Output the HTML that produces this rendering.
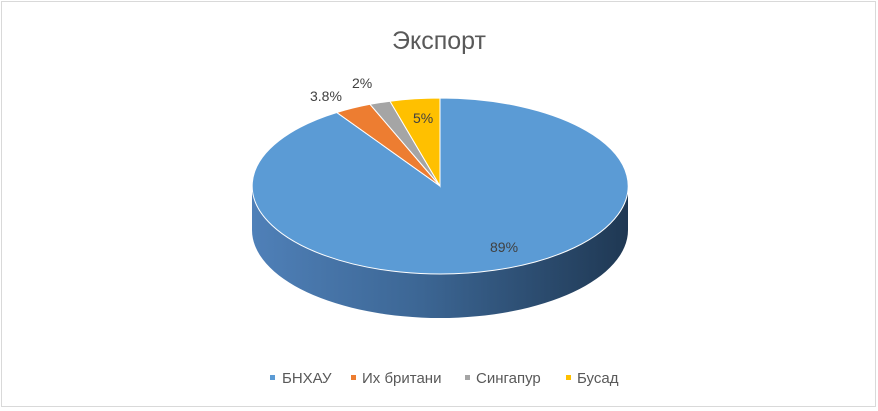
<!DOCTYPE html>
<html><head><meta charset="utf-8"><style>
html,body{margin:0;padding:0;background:#fff;}
svg{display:block;font-family:"Liberation Sans","DejaVu Sans",sans-serif;}
</style></head><body>
<svg width="878" height="411" viewBox="0 0 878 411">
<defs>
<linearGradient id="side" x1="0" x2="1" y1="0" y2="0">
<stop offset="0" stop-color="#4f80b8"/>
<stop offset="0.45" stop-color="#3c6694"/>
<stop offset="1" stop-color="#1f3853"/>
</linearGradient>
</defs>
<rect x="1.5" y="1.5" width="874" height="405" fill="#fff" stroke="#d9d9d9"/>
<text x="439" y="49" text-anchor="middle" font-size="25" fill="#595959">Экспорт</text>
<path d="M252,186 L252,230 A188,88 0 0 0 628,230 L628,186 A188,88 0 0 1 252,186 Z" fill="url(#side)"/>
<path d="M440,186 L440,98 A188,88 0 1 1 336.8,112.5 Z" fill="#5b9bd5" stroke="#fff" stroke-width="1"/>
<path d="M440,186 L336.8,112.5 A188,88 0 0 1 370,104.3 Z" fill="#ed7d31" stroke="#fff" stroke-width="1"/>
<path d="M440,186 L370,104.3 A188,88 0 0 1 390,101.2 Z" fill="#a5a5a5" stroke="#fff" stroke-width="1"/>
<path d="M440,186 L390,101.2 A188,88 0 0 1 440,98 Z" fill="#ffc000" stroke="#fff" stroke-width="1"/>
<g font-size="14" fill="#404040">
<text x="310" y="101">3.8%</text>
<text x="352" y="88">2%</text>
<text x="413" y="123">5%</text>
<text x="490" y="252">89%</text>
</g>
<g font-size="15" fill="#595959">
<rect x="270" y="375" width="5" height="5" fill="#5b9bd5"/><text x="282" y="383">БНХАУ</text>
<rect x="351" y="375" width="5" height="5" fill="#ed7d31"/><text x="362" y="383">Их британи</text>
<rect x="465" y="375" width="5" height="5" fill="#a5a5a5"/><text x="476" y="383">Сингапур</text>
<rect x="566" y="375" width="5" height="5" fill="#ffc000"/><text x="577" y="383">Бусад</text>
</g>
</svg>
</body></html>
